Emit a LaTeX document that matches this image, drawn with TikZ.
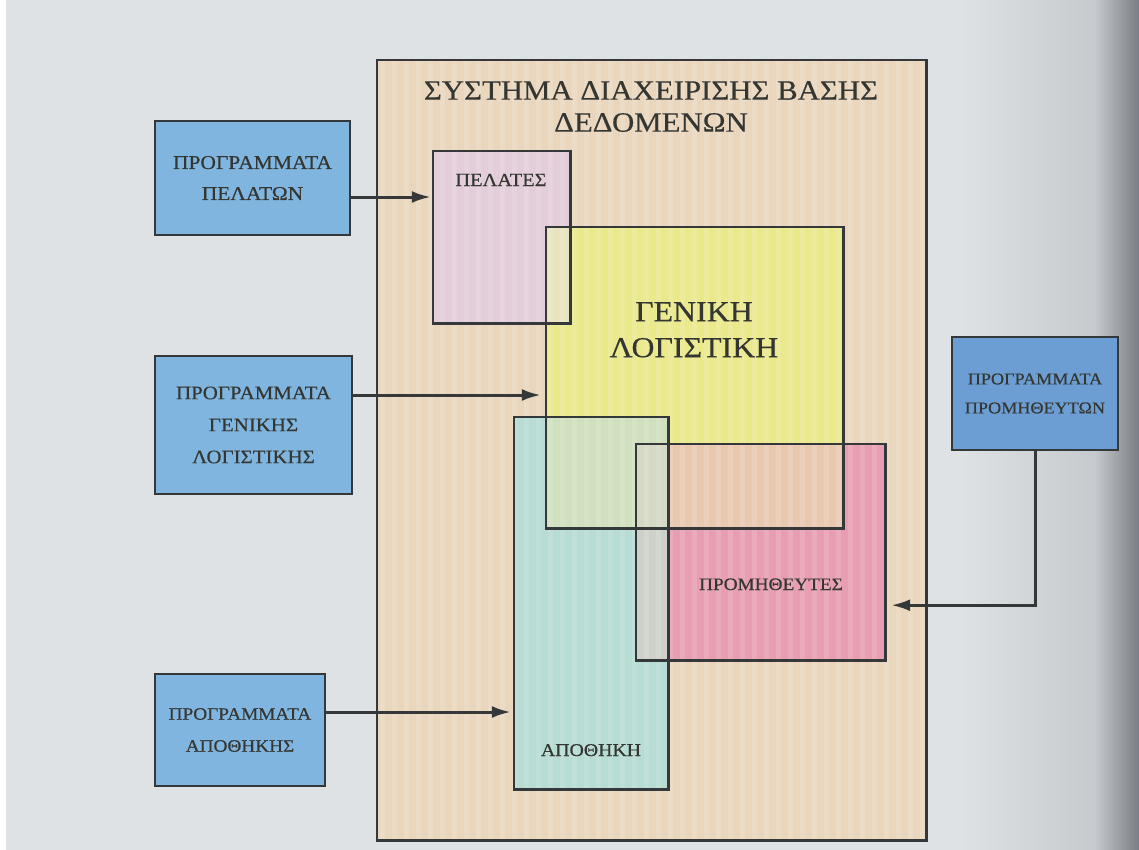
\documentclass[tikz,border=0pt]{standalone}
\usepackage{fontspec}
\setmainfont{Liberation Serif}[FakeStretch=1.1,FakeBold=0.4]
\usetikzlibrary{arrows.meta,calc}

\definecolor{pagebg}{RGB}{223,226,228}
\definecolor{pageshade}{RGB}{198,202,206}
\definecolor{pagedark}{RGB}{118,121,127}
\definecolor{linec}{RGB}{52,56,56}
\definecolor{textc}{RGB}{52,54,50}
\definecolor{dbfill}{RGB}{234,214,189}
\definecolor{progblue}{RGB}{128,181,224}
\definecolor{progblueR}{RGB}{108,158,212}
\definecolor{custfill}{RGB}{227,205,218}
\definecolor{accfill}{RGB}{234,233,140}
\definecolor{storefill}{RGB}{182,220,212}
\definecolor{suppfill}{RGB}{232,158,178}
\definecolor{ovCustAcc}{RGB}{231,228,190}
\definecolor{ovAccStore}{RGB}{208,224,190}
\definecolor{ovAccSupp}{RGB}{233,200,176}
\definecolor{ovStoreSupp}{RGB}{206,208,202}
\definecolor{ovAll}{RGB}{212,216,196}

\tikzset{
  area/.style={rectangle, inner sep=0pt, draw=none},
  frame/.style={draw=linec, line width=2.6pt},
  progbox/.style={rectangle, draw=linec, line width=2.6pt, fill=progblue,
    text=textc, align=center, inner sep=0pt,
    font=\fontsize{19.5}{31}\selectfont},
  lbl/.style={text=textc, inner sep=0pt, anchor=base},
  arr/.style={draw=linec, line width=3pt,
    -{Latex[length=19pt,width=12pt]}},
}

\begin{document}
\begin{tikzpicture}[x=1pt,y=-1pt]
\useasboundingbox (0,0) rectangle (1139,849);

% page with the binding shadow on the right
\fill[pagebg] (-2,-2) rectangle (1141,851);
\fill[white] (-2,-2) rectangle (6,851);
\shade[left color=pagebg, right color=pageshade] (960,-2) rectangle (1095,851);
\shade[left color=pageshade, right color=pagedark] (1095,-2) rectangle (1141,851);

% database management system frame
\node[area, fill=dbfill, minimum width=549pt, minimum height=780pt] (D) at (651.5,450) {};

% data areas
\node[area, fill=accfill,   minimum width=297pt, minimum height=301pt] (Y) at (694.5,377.5) {};
\node[area, fill=custfill,  minimum width=137pt, minimum height=172pt] (P) at (501.5,237) {};
\node[area, fill=storefill, minimum width=154pt, minimum height=372pt] (C) at (591,603) {};
\node[area, fill=suppfill,  minimum width=249pt, minimum height=216pt] (R) at (760.5,552) {};

% shared parts of the areas
\fill[ovCustAcc]   (Y.north west) rectangle (P.south east);
\fill[ovAccStore]  (Y.west |- C.north) rectangle (C.east |- Y.south);
\fill[ovAccSupp]   (R.north west) rectangle (Y.south east);
\fill[ovStoreSupp] (R.north west) rectangle (C.east |- R.south);
\fill[ovAll]       (R.north west) rectangle (C.east |- Y.south);

% printed vertical stripes
\begin{scope}
  \clip (D.north west) rectangle (D.south east);
  \foreach \x in {380,392,...,930}
    \fill[white, opacity=0.13] (\x,60) rectangle ++(5,780);
\end{scope}

% outlines
\draw[frame] (D.north west) rectangle (D.south east);
\draw[frame] (P.north west) rectangle (P.south east);
\draw[frame] (Y.north west) rectangle (Y.south east);
\draw[frame] (C.north west) rectangle (C.south east);
\draw[frame] (R.north west) rectangle (R.south east);

% labels
\node[text=textc, inner sep=0pt, align=center, anchor=north,
      font=\fontsize{28}{32}\selectfont] (title) at (651,81)
      {ΣΥΣΤΗΜΑ ΔΙΑΧΕΙΡΙΣΗΣ ΒΑΣΗΣ\\ΔΕΔΟΜΕΝΩΝ};
\node[lbl, font=\fontsize{18.5}{22}\selectfont] (tP) at (501,186) {ΠΕΛΑΤΕΣ};
\node[text=textc, inner sep=0pt, align=center, anchor=north,
      font=\fontsize{29}{36}\selectfont] (tY) at (694,302) {ΓΕΝΙΚΗ\\ΛΟΓΙΣΤΙΚΗ};
\node[lbl, font=\fontsize{17.5}{22}\selectfont] (tR) at (771,590) {ΠΡΟΜΗΘΕΥΤΕΣ};
\node[lbl, font=\fontsize{18}{22}\selectfont] (tC) at (591,756) {ΑΠΟΘΗΚΗ};

% application programs
\node[progbox, minimum width=195pt, minimum height=114pt] (p1) at (252.5,178)
  {ΠΡΟΓΡΑΜΜΑΤΑ\\ΠΕΛΑΤΩΝ};
\node[progbox, minimum width=197pt, minimum height=138pt,
      font=\fontsize{19}{32}\selectfont] (p2) at (253.5,425)
  {ΠΡΟΓΡΑΜΜΑΤΑ\\ΓΕΝΙΚΗΣ\\ΛΟΓΙΣΤΙΚΗΣ};
\node[progbox, minimum width=170pt, minimum height=112pt,
      font=\fontsize{17.5}{32}\selectfont] (p3) at (240,730)
  {ΠΡΟΓΡΑΜΜΑΤΑ\\ΑΠΟΘΗΚΗΣ};
\node[progbox, fill=progblueR, minimum width=166pt, minimum height=113pt,
      font=\fontsize{16.5}{29}\selectfont] (p4) at (1035,393.5)
  {ΠΡΟΓΡΑΜΜΑΤΑ\\ΠΡΟΜΗΘΕΥΤΩΝ};

% connectors
\draw[arr, shorten >=2pt] ([yshift=-19pt]p1.east) coordinate (a1) -- (a1 -| P.west);
\draw[arr, shorten >=5pt] ([yshift=30pt]p2.east) coordinate (a2) -- (a2 -| Y.west);
\draw[arr, shorten >=3pt] ([yshift=18pt]p3.east) coordinate (a3) -- (a3 -| C.west);
\draw[arr, shorten >=6pt] (p4.south) |- ($(R.south east)+(0,-55)$);
\end{tikzpicture}
\end{document}
